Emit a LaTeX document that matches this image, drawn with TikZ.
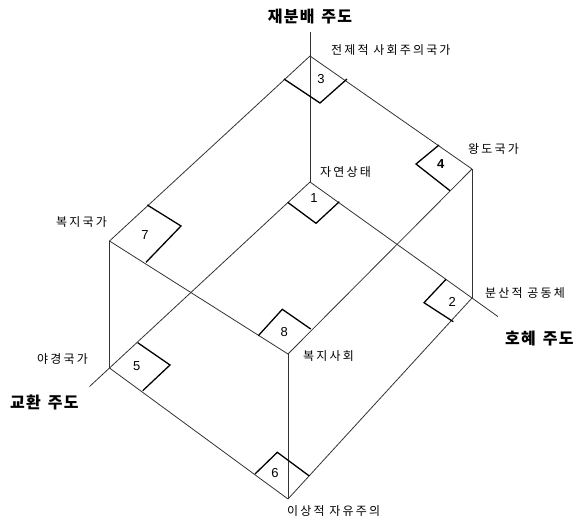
\documentclass[tikz,border=0pt]{standalone}
\usepackage{fontspec}
\setmainfont{Liberation Sans}
\newfontfamily\kr{Noto Sans CJK KR}[LetterSpace=18]
\newfontfamily\krb{Noto Sans CJK KR}[LetterSpace=8]
\usetikzlibrary{calc}
\newcommand{\wgap}{\hspace{7pt}}
\begin{document}
\begin{tikzpicture}[x=1pt,y=-1pt,
  edge/.style={draw=black!80,line width=0.8pt},
  boxline/.style={draw=black,line width=1.3pt,line join=miter},
  num/.style={font=\fontsize{13}{13}\selectfont,inner sep=0pt},
  lab/.style={font=\kr\fontsize{12}{12}\selectfont,inner sep=0pt,anchor=west},
  axislab/.style={font=\krb\bfseries\fontsize{16}{16}\selectfont,inner sep=0pt}]
\useasboundingbox (0,0) rectangle (583,520);
% cube vertices
\coordinate (v3) at (310,56);
\coordinate (v4) at (472,169);
\coordinate (v1) at (310,182);
\coordinate (v7) at (109.5,241);
\coordinate (v2) at (472,298);
\coordinate (v5) at (109.5,368);
\coordinate (v8) at (288,354);
\coordinate (v6) at (288,499);
% axis ends
\coordinate (atop) at (310,32);
\coordinate (aright) at ($(v1)!1.16!(v2)$);
\coordinate (aleft) at ($(v1)!1.1!(v5)$);
% axes
\draw[edge] (atop) -- (v1);
\draw[edge] (v1) -- (aright);
\draw[edge] (v1) -- (aleft);
% cube edges
\draw[edge] (v3) -- (v4);
\draw[edge] (v3) -- (v7);
\draw[edge] (v4) -- (v2);
\draw[edge] (v4) -- (v8);
\draw[edge] (v7) -- (v8);
\draw[edge] (v7) -- (v5);
\draw[edge] (v8) -- (v6);
\draw[edge] (v5) -- (v6);
\draw[edge] (v2) -- (v6);
% corner boxes
\draw[boxline] (284,79) -- (320,103) -- (347,79);
\draw[boxline] (287.7,202.3) -- (316,223.3) -- (339.3,201.7);
\draw[boxline] (439,145) -- (416,164) -- (450,190.7);
\draw[boxline] (147.3,205) -- (181,226) -- (146,262.3);
\draw[boxline] (446,279.3) -- (424,302.7) -- (453.3,321.7);
\draw[boxline] (137.7,342.7) -- (170,365) -- (142.7,390.7);
\draw[boxline] (258.3,335.7) -- (282.3,309.3) -- (310.7,329);
\draw[boxline] (255,474) -- (277.3,452.3) -- (309.3,476);
% numbers
\node[num] (n3) at (321,79) {3};
\node[num] (n1) at (314,198) {1};
\node[num] (n4) at (440.7,164) {\bfseries 4};
\node[num] (n7) at (145,235) {7};
\node[num] (n2) at (452.3,301.7) {2};
\node[num] (n5) at (136.7,365.7) {5};
\node[num] (n8) at (284.3,331.7) {8};
\node[num] (n6) at (275,473.3) {6};
% labels
\node[axislab] (redis) at (310,17) {재분배\wgap 주도};
\node[axislab,anchor=west] (recip) at (505,339) {호혜\wgap 주도};
\node[axislab,anchor=west] (exch) at (10,402) {교환\wgap 주도};
\node[lab] (l3) at (331,50) {전제적 사회주의국가};
\node[lab] (l1) at (320,172) {자연상태};
\node[lab] (l4) at (468,149) {왕도국가};
\node[lab] (l7) at (56,222) {복지국가};
\node[lab] (l2) at (485,293) {분산적 공동체};
\node[lab] (l5) at (37,359) {야경국가};
\node[lab] (l8) at (303,356) {복지사회};
\node[lab] (l6) at (287,511) {이상적 자유주의};
\end{tikzpicture}
\end{document}
